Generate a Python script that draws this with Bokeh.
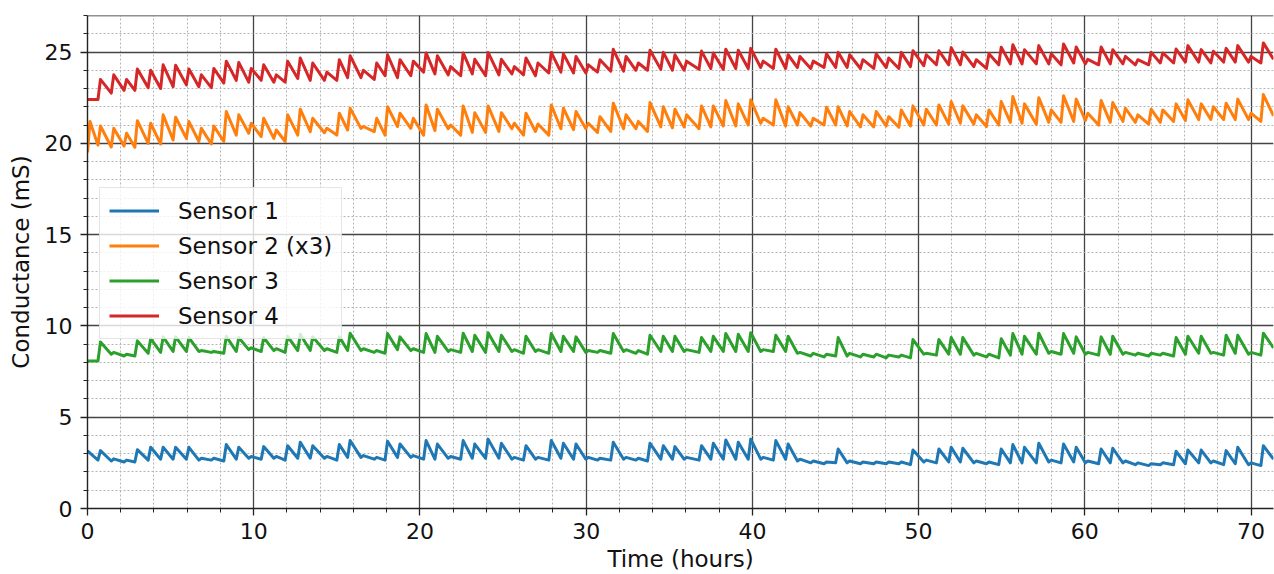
from bokeh.plotting import figure
from bokeh.models import Range1d, SingleIntervalTicker, Span, Legend, LegendItem
from bokeh.embed import file_html
from bokeh.resources import INLINE

# ---------------- data ----------------
# times (hours) of the periodic spikes, shared by all sensors
spike_hours = [
    0.78, 1.58, 2.35, 3.0, 3.8, 4.55, 5.3, 6.1, 6.85, 7.6, 8.35, 9.1, 9.85, 10.6,
    11.36, 12.04, 12.8, 13.55, 14.4, 15.15, 15.8, 16.6, 17.4, 18.05, 18.8, 19.6, 20.37,
    21.05, 21.85, 22.6, 23.3, 24.1, 24.9, 25.68, 26.38, 27.1, 27.9, 28.63, 29.39, 30.13,
    30.83, 31.63, 32.4, 33.14, 33.84, 34.64, 35.34, 36.04, 36.94, 37.65, 38.4, 39.15,
    39.9, 40.65, 41.41, 42.15, 42.86, 43.66, 44.46, 45.16,
    45.85, 46.65, 47.45, 48.2, 48.96, 49.66, 50.46, 51.22, 51.96, 52.66, 53.47, 54.23,
    54.97, 55.67, 56.37, 57.23, 57.98, 58.72, 59.48, 60.18, 60.98, 61.68, 62.44, 63.19,
    63.99, 64.69, 65.49, 66.2, 67.0, 67.73, 68.5, 69.2, 70.0, 70.74,
]
end_hour = 71.35

# Sensor 1 (blue)
s1_lead_hours = [0.0]
s1_lead_values = [3.15]
s1_troughs = [
    2.65, 2.6, 2.55, 2.55, 2.65, 2.7, 2.7, 2.7, 2.65, 2.65, 2.6, 2.7, 2.75, 2.7, 2.75, 2.65,
    2.75, 2.75, 2.75, 2.65, 2.8, 2.8, 2.7, 2.65, 2.8, 2.8, 2.7,
    2.7, 2.75, 2.7, 2.75, 2.75, 2.75, 2.7, 2.65, 2.7, 2.65, 2.75, 2.7, 2.7, 2.65, 2.65, 2.7,
    2.65, 2.6, 2.7, 2.7, 2.7, 2.65, 2.7, 2.7, 2.7, 2.7, 2.7, 2.65, 2.7, 2.6, 2.5, 2.45, 2.5,
    2.5, 2.45, 2.45, 2.45, 2.45, 2.4, 2.55, 2.5, 2.55, 2.55, 2.5, 2.45, 2.4, 2.5, 2.5, 2.5,
    2.55, 2.5, 2.55, 2.5, 2.45, 2.5, 2.5, 2.4, 2.35, 2.4, 2.4, 2.45, 2.5, 2.5, 2.4, 2.45, 2.4, 2.35,
]
s1_peaks = [
    3.17, 2.72, 2.65, 3.22, 3.35, 3.35, 3.35, 3.35, 2.75, 2.75, 3.5, 3.35, 2.85, 3.39, 2.85,
    3.44, 3.63, 3.44, 2.85, 3.5, 3.72, 2.9, 2.8, 3.68, 3.53, 2.9, 3.72,
    3.53, 2.85, 3.72, 3.53, 3.8, 3.57, 2.8, 3.44, 2.8, 3.72, 3.57, 3.53, 2.8, 2.75, 3.63, 2.8,
    2.75, 3.57, 3.44, 3.39, 2.8, 3.44, 3.57, 3.75, 3.63, 3.8, 2.8, 3.72, 3.53, 2.7, 2.6, 2.55, 3.26,
    2.6, 2.55, 2.55, 2.55, 2.55, 3.2, 2.65, 3.26, 3.35, 3.3, 2.6, 2.55, 3.26, 3.5, 3.35, 3.57,
    2.65, 3.53, 3.35, 2.6, 3.26, 3.3, 2.6, 2.5, 2.45, 2.5, 3.13, 3.2, 3.2, 2.6, 3.17, 3.35, 2.5, 3.44,
]
s1_end = 2.7

# Sensor 2 (x3) (orange)
s2_lead_hours = [0.0, 0.15]
s2_lead_values = [19.5, 21.2]
s2_troughs = [
    19.9, 19.8, 19.85, 19.78, 20.0, 19.96, 20.18, 20.27, 20.1, 19.96, 20.1, 20.45, 20.55,
    20.37, 20.27, 20.1, 20.45, 20.64, 20.58, 20.45, 20.73, 20.82, 20.64, 20.45, 20.92, 20.82, 20.45,
    20.7, 20.8, 20.45, 20.6, 20.6, 20.65, 20.8, 20.45, 20.65, 20.45, 20.8, 20.75, 20.8, 20.6,
    20.65, 20.8, 20.8, 20.65, 20.9, 20.85, 20.9, 20.8, 20.9, 20.95, 20.95, 21.0, 21.1, 21.0,
    20.95, 21.0, 20.95, 21.0, 21.0,
    20.95, 20.9, 20.9, 20.95, 20.88, 20.95, 21.0, 21.0, 21.05, 21.1, 21.05, 20.92, 21.0,
    21.15, 21.1, 21.05, 21.15, 21.15, 21.2, 21.25, 21.0, 21.15, 21.2, 21.15, 21.05, 21.15,
    21.2, 21.25, 21.3, 21.3, 21.3, 21.3, 21.3, 21.2,
]
s2_peaks = [
    20.95, 20.82, 20.55, 21.24, 21.1, 21.56, 21.43, 21.19, 20.82, 20.95, 21.74, 21.56, 21.1,
    21.37, 20.73, 21.56, 21.87, 21.37, 20.82, 21.65, 21.92, 20.92, 21.37, 22.0, 21.65, 21.37, 22.1,
    21.87, 21.0, 22.05, 21.68, 22.05, 21.68, 21.1, 21.65, 21.06, 22.1, 21.92, 21.74, 21.1,
    21.46, 22.2, 21.56, 21.2, 22.23, 22.0, 21.87, 21.56, 22.05, 22.05, 22.34, 22.16, 22.38,
    21.37, 22.38, 22.0, 21.68, 21.37, 21.98, 22.0,
    21.74, 21.56, 21.74, 21.46, 21.83, 22.05, 21.87, 22.1, 22.29, 22.05, 21.56, 21.83, 22.29,
    22.56, 22.16, 22.5, 21.83, 22.6, 22.42, 21.65, 22.34, 22.23, 21.92, 21.56, 21.87, 21.83,
    22.16, 22.38, 22.16, 22.0, 22.2, 22.42, 21.65, 22.67,
]
s2_end = 21.5

# Sensor 3 (green)
s3_lead_hours = [0.0]
s3_lead_values = [8.08]
s3_troughs = [
    8.08, 8.45, 8.35, 8.35, 8.5, 8.55, 8.6, 8.6, 8.6, 8.55, 8.5, 8.6, 8.7, 8.6, 8.65, 8.55,
    8.65, 8.65, 8.65, 8.55, 8.65, 8.65, 8.55, 8.5, 8.7, 8.65, 8.55,
    8.55, 8.6, 8.55, 8.6, 8.55, 8.6, 8.6, 8.5, 8.6, 8.5, 8.6, 8.6, 8.55, 8.55, 8.5, 8.6,
    8.5, 8.45, 8.6, 8.6, 8.6, 8.55, 8.6, 8.6, 8.6, 8.6, 8.6, 8.6, 8.6, 8.5, 8.35, 8.3, 8.35,
    8.35, 8.3, 8.3, 8.25, 8.3, 8.25, 8.45, 8.4, 8.45, 8.45, 8.4, 8.3, 8.25, 8.4, 8.45, 8.45,
    8.5, 8.45, 8.5, 8.45, 8.4, 8.45, 8.45, 8.4, 8.35, 8.4, 8.35, 8.45, 8.5, 8.5, 8.4, 8.5, 8.45, 8.4,
]
s3_peaks = [
    9.12, 8.55, 8.45, 9.18, 9.3, 9.4, 9.4, 9.36, 8.65, 8.6, 9.43, 9.36, 8.8, 9.36, 8.75, 9.43,
    9.54, 9.4, 8.75, 9.4, 9.6, 8.75, 8.65, 9.58, 9.4, 8.75, 9.58,
    9.43, 8.7, 9.6, 9.49, 9.63, 9.49, 8.7, 9.43, 8.7, 9.58, 9.43, 9.4, 8.65, 8.65, 9.58, 8.7,
    8.65, 9.49, 9.43, 9.43, 8.7, 9.36, 9.43, 9.58, 9.54, 9.63, 8.7, 9.49, 9.43, 8.55, 8.5, 8.45, 9.36,
    8.5, 8.45, 8.45, 8.4, 8.4, 9.25, 8.5, 9.25, 9.36, 9.36, 8.5, 8.45, 9.3, 9.58, 9.43, 9.6,
    8.6, 9.58, 9.4, 8.55, 9.4, 9.43, 8.55, 8.5, 8.5, 8.5, 9.36, 9.43, 9.43, 8.55, 9.49, 9.49, 8.55, 9.6,
]
s3_end = 8.8

# Sensor 4 (red)
s4_lead_hours = [0.0]
s4_lead_values = [22.4]
s4_troughs = [
    22.4, 22.75, 22.9, 22.9, 23.05, 23.0, 23.1, 23.2, 23.1, 23.05, 23.3, 23.45, 23.35, 23.45,
    23.35, 23.35, 23.55, 23.45, 23.45, 23.45, 23.6, 23.6, 23.5, 23.7, 23.6, 23.7, 23.9,
    23.8, 23.75, 23.7, 23.8, 23.7, 23.75, 23.8, 23.75, 23.7, 23.85, 23.9, 23.85, 23.85, 23.9,
    23.95, 23.95, 24.0, 24.0, 24.05, 24.0, 24.0, 24.05, 24.1, 24.05, 24.1, 24.1, 24.15, 24.1,
    24.1, 24.15, 24.1, 24.15, 24.15,
    24.15, 24.1, 24.1, 24.15, 24.1, 24.2, 24.25, 24.3, 24.3, 24.3, 24.2, 24.1, 24.3, 24.35,
    24.35, 24.35, 24.35, 24.3, 24.4, 24.35, 24.3, 24.35, 24.35, 24.3, 24.3, 24.4, 24.4, 24.45,
    24.45, 24.4, 24.45, 24.45, 24.45, 24.4,
]
s4_peaks = [
    23.5, 23.75, 23.5, 24.07, 24.0, 24.3, 24.27, 24.07, 23.75, 24.1, 24.5, 24.43, 24.1, 24.3,
    23.75, 24.5, 24.67, 24.4, 23.9, 24.58, 24.8, 24.0, 24.4, 24.85, 24.58, 24.5, 24.95,
    24.8, 24.2, 24.95, 24.6, 24.98, 24.6, 24.2, 24.67, 24.4, 24.98, 24.9, 24.76, 24.3, 24.58,
    25.15, 24.76, 24.4, 25.1, 24.98, 24.85, 24.5, 25.05, 24.95, 25.15, 25.1, 25.2, 24.5, 25.15,
    24.85, 24.76, 24.5, 24.9, 24.98,
    24.85, 24.58, 24.9, 24.67, 24.98, 25.07, 24.85, 25.07, 25.24, 25.0, 24.58, 24.9, 25.26,
    25.4, 25.13, 25.35, 24.9, 25.44, 25.27, 24.6, 25.27, 25.13, 24.76, 24.58, 24.98, 24.95,
    25.16, 25.35, 25.13, 25.04, 25.2, 25.35, 24.76, 25.5,
]
s4_end = 24.6

series_labels = ["Sensor 1", "Sensor 2 (x3)", "Sensor 3", "Sensor 4"]
series_colors = ["#1f77b4", "#ff7f0e", "#2ca02c", "#d62728"]

x_ticks_interval = 10
y_ticks_interval = 5

# ---------------- drawing ----------------
RISE = 0.15  # hours from trough to spike top (drawing detail)


def build(lead_h, lead_v, troughs, peaks, end_v):
    assert len(troughs) == len(spike_hours) == len(peaks)
    xs = list(lead_h)
    ys = list(lead_v)
    for t, lo, hi in zip(spike_hours, troughs, peaks):
        xs += [t - RISE, t]
        ys += [lo, hi]
    xs.append(end_hour)
    ys.append(end_v)
    return xs, ys


all_series = [
    build(s1_lead_hours, s1_lead_values, s1_troughs, s1_peaks, s1_end),
    build(s2_lead_hours, s2_lead_values, s2_troughs, s2_peaks, s2_end),
    build(s3_lead_hours, s3_lead_values, s3_troughs, s3_peaks, s3_end),
    build(s4_lead_hours, s4_lead_values, s4_troughs, s4_peaks, s4_end),
]

FONT = "DejaVu Sans"

p = figure(
    width=1274, height=574,
    x_range=Range1d(0, end_hour), y_range=Range1d(0, 27),
    output_backend="svg", toolbar_location=None,
    min_border_left=87, min_border_right=1, min_border_top=15, min_border_bottom=66,
)
p.outline_line_color = None
p.background_fill_color = "white"
p.border_fill_color = "white"

p.xaxis.ticker = SingleIntervalTicker(interval=x_ticks_interval, num_minor_ticks=5)
p.yaxis.ticker = SingleIntervalTicker(interval=y_ticks_interval, num_minor_ticks=5)
p.xaxis.axis_label = "Time (hours)"
p.yaxis.axis_label = "Conductance (mS)"

for ax in (p.xaxis, p.yaxis):
    ax.axis_label_text_font = FONT
    ax.axis_label_text_font_size = "23px"
    ax.axis_label_text_font_style = "normal"
    ax.axis_label_text_color = "#111111"
    ax.major_label_text_font = FONT
    ax.major_label_text_font_size = "22px"
    ax.major_label_text_color = "#111111"
    ax.axis_line_color = "#222222"
    ax.axis_line_width = 1.4
    ax.major_tick_line_color = "#222222"
    ax.major_tick_line_width = 1.3
    ax.minor_tick_line_color = "#222222"
    ax.minor_tick_line_width = 1.0
    ax.major_tick_in = 0
    ax.major_tick_out = 7
    ax.minor_tick_in = 0
    ax.minor_tick_out = 4
p.xaxis.major_label_standoff = 7
p.yaxis.major_label_standoff = 8
p.xaxis.axis_label_standoff = 4
p.yaxis.axis_label_standoff = 8

for g in (p.xgrid, p.ygrid):
    g.grid_line_color = "#444444"
    g.grid_line_width = 1.3
    g.minor_grid_line_color = "#b5b5b5"
    g.minor_grid_line_width = 1.0
    g.minor_grid_line_dash = "2 2"

p.add_layout(Span(location=27, dimension="width", line_color="#222222", line_width=1.6))

renderers = []
for (xs, ys), col in zip(all_series, series_colors):
    r = p.line(xs, ys, line_color=col, line_width=3.0, line_join="round")
    renderers.append(r)

legend = Legend(
    items=[LegendItem(label=lab, renderers=[r]) for lab, r in zip(series_labels, renderers)],
    location=(12, 169),
    label_text_font=FONT, label_text_font_size="23px", label_text_color="#111111",
    glyph_width=50, glyph_height=27, label_height=27, label_standoff=19,
    spacing=8, padding=9, margin=0,
    border_line_color="#cccccc", border_line_width=1.2,
    background_fill_color="white", background_fill_alpha=0.8,
)
p.add_layout(legend)

open("out.html", "w").write(file_html(p, INLINE))
